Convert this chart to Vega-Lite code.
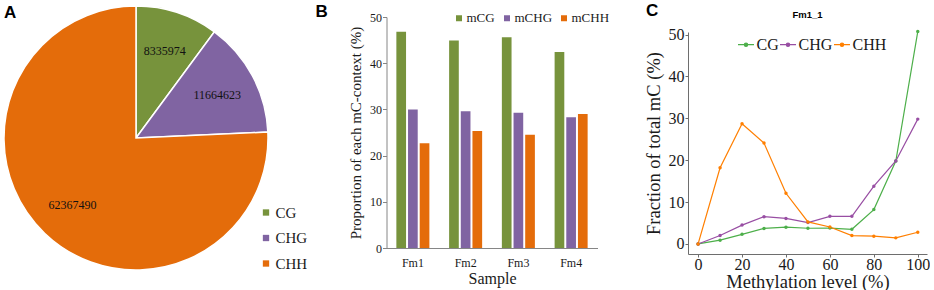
{
  "$schema": "https://vega.github.io/schema/vega-lite/v6.json",
  "padding": {"left": 1, "top": 2, "right": 0, "bottom": 0},
  "background": "white",
  "config": {
    "view": {"stroke": null},
    "font": "Liberation Serif",
    "axis": {"grid": false, "labelColor": "#1a1a1a", "titleColor": "#1a1a1a", "titleFontWeight": "normal", "labelFont": "Liberation Serif", "titleFont": "Liberation Serif"},
    "legend": {"labelColor": "#1a1a1a", "labelFont": "Liberation Serif"}
  },
  "datasets": {
    "pie": [
      {"context": "CG", "count": 8335974, "order": 1},
      {"context": "CHG", "count": 11664623, "order": 2},
      {"context": "CHH", "count": 62367490, "order": 3}
    ],
    "bars": [
      {"sample": "Fm1", "ctx": "mCG", "pct": 46.8},
      {"sample": "Fm1", "ctx": "mCHG", "pct": 30.0},
      {"sample": "Fm1", "ctx": "mCHH", "pct": 22.7},
      {"sample": "Fm2", "ctx": "mCG", "pct": 44.9},
      {"sample": "Fm2", "ctx": "mCHG", "pct": 29.6},
      {"sample": "Fm2", "ctx": "mCHH", "pct": 25.3},
      {"sample": "Fm3", "ctx": "mCG", "pct": 45.6},
      {"sample": "Fm3", "ctx": "mCHG", "pct": 29.3},
      {"sample": "Fm3", "ctx": "mCHH", "pct": 24.5},
      {"sample": "Fm4", "ctx": "mCG", "pct": 42.4},
      {"sample": "Fm4", "ctx": "mCHG", "pct": 28.3},
      {"sample": "Fm4", "ctx": "mCHH", "pct": 29.0}
    ],
    "levels": [
      {"ctx": "CG", "level": 0, "frac": 0},
      {"ctx": "CG", "level": 10, "frac": 0.9},
      {"ctx": "CG", "level": 20, "frac": 2.3},
      {"ctx": "CG", "level": 30, "frac": 3.7},
      {"ctx": "CG", "level": 40, "frac": 4.0},
      {"ctx": "CG", "level": 50, "frac": 3.75},
      {"ctx": "CG", "level": 60, "frac": 3.8},
      {"ctx": "CG", "level": 70, "frac": 3.5},
      {"ctx": "CG", "level": 80, "frac": 8.2},
      {"ctx": "CG", "level": 90, "frac": 19.8},
      {"ctx": "CG", "level": 100, "frac": 50.7},
      {"ctx": "CHG", "level": 0, "frac": 0},
      {"ctx": "CHG", "level": 10, "frac": 2.0},
      {"ctx": "CHG", "level": 20, "frac": 4.5},
      {"ctx": "CHG", "level": 30, "frac": 6.5},
      {"ctx": "CHG", "level": 40, "frac": 6.1},
      {"ctx": "CHG", "level": 50, "frac": 5.1},
      {"ctx": "CHG", "level": 60, "frac": 6.6},
      {"ctx": "CHG", "level": 70, "frac": 6.6},
      {"ctx": "CHG", "level": 80, "frac": 13.8},
      {"ctx": "CHG", "level": 90, "frac": 19.8},
      {"ctx": "CHG", "level": 100, "frac": 29.8},
      {"ctx": "CHH", "level": 0, "frac": 0},
      {"ctx": "CHH", "level": 10, "frac": 18.2},
      {"ctx": "CHH", "level": 20, "frac": 28.7},
      {"ctx": "CHH", "level": 30, "frac": 24.1},
      {"ctx": "CHH", "level": 40, "frac": 12.1},
      {"ctx": "CHH", "level": 50, "frac": 5.25},
      {"ctx": "CHH", "level": 60, "frac": 4.05},
      {"ctx": "CHH", "level": 70, "frac": 2.0},
      {"ctx": "CHH", "level": 80, "frac": 1.85},
      {"ctx": "CHH", "level": 90, "frac": 1.45},
      {"ctx": "CHH", "level": 100, "frac": 2.8}
    ]
  },
  "resolve": {"scale": {"color": "independent"}, "legend": {"color": "independent"}},
  "bounds": "full",
  "spacing": 7.5,
  "hconcat": [
    {
      "title": {"text": "A", "anchor": "start", "frame": "group", "font": "Liberation Sans", "fontSize": 17, "fontWeight": "bold", "color": "black", "offset": -19, "dx": 0},
      "width": 264,
      "height": 264,
      "data": {"name": "pie"},
      "encoding": {
        "theta": {"field": "count", "type": "quantitative", "stack": true},
        "order": {"field": "order", "type": "quantitative"}
      },
      "layer": [
        {
          "mark": {"type": "arc", "outerRadius": 132, "stroke": "white", "strokeWidth": 1.5},
          "encoding": {
            "color": {
              "field": "context", "type": "nominal",
              "scale": {"domain": ["CG", "CHG", "CHH"], "range": ["#77933c", "#8064a2", "#e46c0a"]},
              "legend": {"orient": "none", "legendX": 254.5, "legendY": 199, "title": null, "symbolType": "square", "symbolSize": 40, "symbolStrokeWidth": 0, "labelFontSize": 15, "rowPadding": 9.5, "labelOffset": 2, "padding": 0}
            }
          }
        },
        {
          "mark": {"type": "text", "radius": 92, "font": "Liberation Serif", "fontSize": 12, "color": "#111"},
          "encoding": {"text": {"field": "count", "type": "quantitative", "format": "d"}}
        }
      ]
    },
    {
      "spacing": 34.5,
      "bounds": "full",
      "resolve": {"scale": {"color": "independent"}, "legend": {"color": "independent"}},
      "hconcat": [
        {
          "title": {"text": "B", "anchor": "start", "frame": "group", "font": "Liberation Sans", "fontSize": 17, "fontWeight": "bold", "color": "black", "offset": -14.8, "dx": -71},
          "width": 211,
          "height": 242,
          "data": {"name": "bars"},
          "mark": {"type": "bar"},
          "encoding": {
            "x": {
              "field": "sample", "type": "nominal",
              "scale": {"paddingInner": 0.374, "paddingOuter": 0.187},
              "axis": {"title": "Sample", "labelAngle": 0, "ticks": false, "domainColor": "#868686", "labelFontSize": 12, "labelPadding": 9, "titleFontSize": 16, "titlePadding": 2}
            },
            "xOffset": {"field": "ctx", "type": "nominal", "sort": ["mCG", "mCHG", "mCHH"], "scale": {"paddingInner": 0.17, "paddingOuter": 0}},
            "y": {
              "field": "pct", "type": "quantitative",
              "scale": {"domain": [0, 50], "nice": false, "range": [242, 11]},
              "axis": {"title": "Proportion of each mC-context (%)", "values": [0, 10, 20, 30, 40, 50], "domainColor": "#868686", "tickColor": "#868686", "tickSize": 4, "labelPadding": 1, "labelFontSize": 12, "titleFontSize": 15, "titlePadding": 6}
            },
            "color": {
              "field": "ctx", "type": "nominal",
              "scale": {"domain": ["mCG", "mCHG", "mCHH"], "range": ["#77933c", "#8064a2", "#e46c0a"]},
              "legend": {"orient": "none", "direction": "horizontal", "legendX": 66, "legendY": 5.5, "title": null, "symbolType": "square", "symbolSize": 36, "symbolStrokeWidth": 0, "labelFontSize": 13, "columnPadding": 5, "labelOffset": 1, "padding": 0}
            }
          }
        },
        {
          "title": {"text": "C", "anchor": "start", "frame": "group", "font": "Liberation Sans", "fontSize": 17, "fontWeight": "bold", "color": "black", "offset": -14.1, "dx": -42},
          "bounds": "full",
          "hconcat": [
            {
              "title": {"text": "Fm1_1", "anchor": "middle", "font": "Liberation Sans", "fontSize": 9.5, "fontWeight": "bold", "color": "black", "offset": -13.3},
              "width": 239,
              "height": 248,
              "data": {"name": "levels"},
              "mark": {"type": "line", "strokeWidth": 1.2, "point": {"filled": true, "size": 12}},
              "encoding": {
                "x": {
                  "field": "level", "type": "quantitative",
                  "scale": {"domain": [-4.6, 104.2], "nice": false, "zero": false},
                  "axis": {"title": "Methylation level (%)", "values": [0, 20, 40, 60, 80, 100], "domainColor": "#6e6e6e", "tickColor": "#6e6e6e", "tickSize": 3, "labelPadding": -1, "labelFontSize": 16, "titleFontSize": 18.5, "titlePadding": 0}
                },
                "y": {
                  "field": "frac", "type": "quantitative",
                  "scale": {"domain": [-2.4, 50.6], "nice": false, "zero": false, "range": [248, 26]},
                  "axis": {"title": "Fraction of total mC (%)", "values": [0, 10, 20, 30, 40, 50], "domainColor": "#6e6e6e", "tickColor": "#6e6e6e", "tickSize": 3, "labelPadding": 1, "labelFontSize": 16, "titleFontSize": 18.5, "titlePadding": 5}
                },
                "color": {
                  "field": "ctx", "type": "nominal",
                  "scale": {"domain": ["CG", "CHG", "CHH"], "range": ["#4daf4a", "#984ea3", "#ff7f00"]},
                  "legend": {"orient": "none", "direction": "horizontal", "legendX": 49, "legendY": 29.7, "title": null, "symbolType": "M-1,0H1M-0.2,0A0.2,0.2,0,1,0,0.2,0A0.2,0.2,0,1,0,-0.2,0", "symbolSize": 256, "symbolStrokeWidth": 1.3, "labelFontSize": 16, "columnPadding": -2, "labelOffset": 1.5, "padding": 0}
                }
              }
            }
          ]
        }
      ]
    }
  ]
}
